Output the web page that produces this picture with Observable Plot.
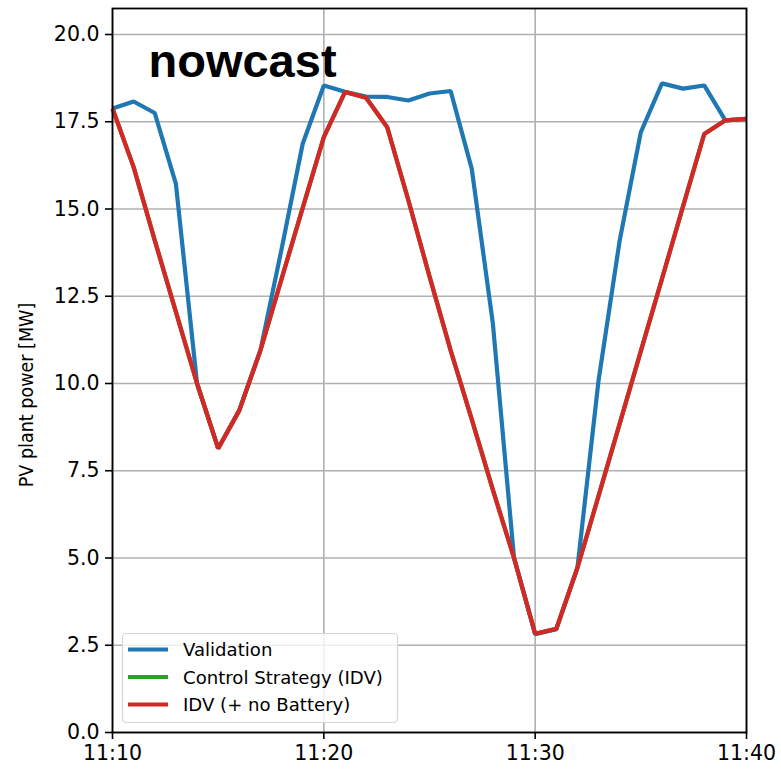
<!DOCTYPE html>
<html><head><meta charset="utf-8">
<script src="https://cdn.jsdelivr.net/npm/d3@7"></script>
<script src="https://cdn.jsdelivr.net/npm/@observablehq/plot@0.6"></script>
<style>
body{margin:0;background:#fff}
#chart svg{display:block}
</style>
</head><body><div id="chart"></div>
<script>
const times = ["11:10","11:11","11:12","11:13","11:14","11:15","11:16","11:17","11:18","11:19",
  "11:20","11:21","11:22","11:23","11:24","11:25","11:26","11:27","11:28","11:29",
  "11:30","11:31","11:32","11:33","11:34","11:35","11:36","11:37","11:38","11:39","11:40"];
const validation = [17.88,18.08,17.75,15.72,10.0,8.14,9.23,10.95,13.85,16.87,
  18.54,18.36,18.22,18.21,18.11,18.31,18.38,16.15,11.71,5.0,
  2.82,2.96,4.72,10.09,14.1,17.2,18.6,18.45,18.54,17.54,17.58];
const controlIDV = [17.88,16.2,14.1,12.05,10.0,8.14,9.23,10.95,13.0,15.03,
  17.06,18.35,18.19,17.34,15.25,13.07,10.95,8.97,6.95,5.0,
  2.83,2.97,4.72,6.78,8.85,10.93,13.0,15.08,17.15,17.54,17.58];
const idvNoBattery = [17.88,16.2,14.1,12.05,10.0,8.14,9.23,10.95,13.0,15.03,
  17.06,18.35,18.19,17.34,15.25,13.07,10.95,8.97,6.95,5.0,
  2.83,2.97,4.72,6.78,8.85,10.93,13.0,15.08,17.15,17.54,17.58];
const seriesNames = ["Validation","Control Strategy (IDV)","IDV (+ no Battery)"];
const seriesColors = ["#1f77b4","#2ca02c","#d62728"];
const xTickLabels = ["11:10","11:20","11:30","11:40"];
const yTicks = [0,2.5,5,7.5,10,12.5,15,17.5,20];
const yLabel = "PV plant power [MW]";
const panelLabel = "nowcast";

const parse = d3.timeParse("%H:%M");
const fmt = d3.timeFormat("%H:%M");
const allValues = [validation, controlIDV, idvNoBattery];
const rows = [];
allValues.forEach((vals, s) => vals.forEach((v, i) => rows.push({t: parse(times[i]), v, s: seriesNames[s]})));

const chart = Plot.plot({
  width: 781, height: 770,
  marginLeft: 112, marginRight: 35, marginTop: 8, marginBottom: 38,
  style: {fontFamily: "'DejaVu Sans', sans-serif", fontSize: "20.5px", color: "#000", background: "#fff"},
  x: {type: "time", domain: [parse("11:10"), parse("11:40")]},
  y: {domain: [0, 20.745]},
  color: {domain: seriesNames, range: seriesColors},
  marks: [
    Plot.gridX(xTickLabels.map(parse), {stroke: "#b0b0b0", strokeOpacity: 1, strokeWidth: 1.6}),
    Plot.gridY(yTicks, {stroke: "#b0b0b0", strokeOpacity: 1, strokeWidth: 1.6}),
    Plot.line(rows, {x: "t", y: "v", z: "s", stroke: "s", strokeWidth: 4.2, strokeLinejoin: "miter", strokeLinecap: "butt"}),
    Plot.text([panelLabel], {frameAnchor: "top-left", text: d => d, dx: 36, dy: 35, lineAnchor: "top", textAnchor: "start",
      fontSize: 47, fontWeight: "bold", fontFamily: "'Liberation Sans', Arial, sans-serif", fill: "#000"}),
    Plot.frame({stroke: "#000", strokeWidth: 1.8}),
    Plot.axisX(xTickLabels.map(parse), {tickFormat: fmt, tickSize: 7, tickPadding: 6, stroke: "#000", strokeWidth: 1.6, label: null}),
    Plot.axisY(yTicks, {tickFormat: d3.format(".1f"), tickSize: 7, tickPadding: 6, stroke: "#000", strokeWidth: 1.6, label: null})
  ]
});
document.getElementById("chart").appendChild(chart);

const svg = d3.select(chart);
svg.append("text")
  .attr("transform", "translate(33,395) rotate(-90)")
  .attr("text-anchor", "middle")
  .style("font-family", "'DejaVu Sans Condensed', 'DejaVu Sans', sans-serif")
  .style("font-stretch", "condensed")
  .style("font-size", "19.5px")
  .attr("fill", "#000")
  .text(yLabel);

const lg = svg.append("g");
lg.append("rect").attr("x", 122.5).attr("y", 633.5).attr("width", 275).attr("height", 89).attr("rx", 4)
  .attr("fill", "#fff").attr("fill-opacity", 0.8).attr("stroke", "#d6d6d6").attr("stroke-width", 1.2);
seriesNames.forEach((name, i) => {
  const y = 649.5 + i * 27.5;
  lg.append("line").attr("x1", 128).attr("x2", 168).attr("y1", y).attr("y2", y)
    .attr("stroke", seriesColors[i]).attr("stroke-width", 4.2);
  lg.append("text").attr("x", 183).attr("y", y + 6.5).attr("text-anchor", "start")
    .style("font-family", "'DejaVu Sans', sans-serif").style("font-size", "18.1px").attr("fill", "#000").text(name);
});
</script>
</body></html>
